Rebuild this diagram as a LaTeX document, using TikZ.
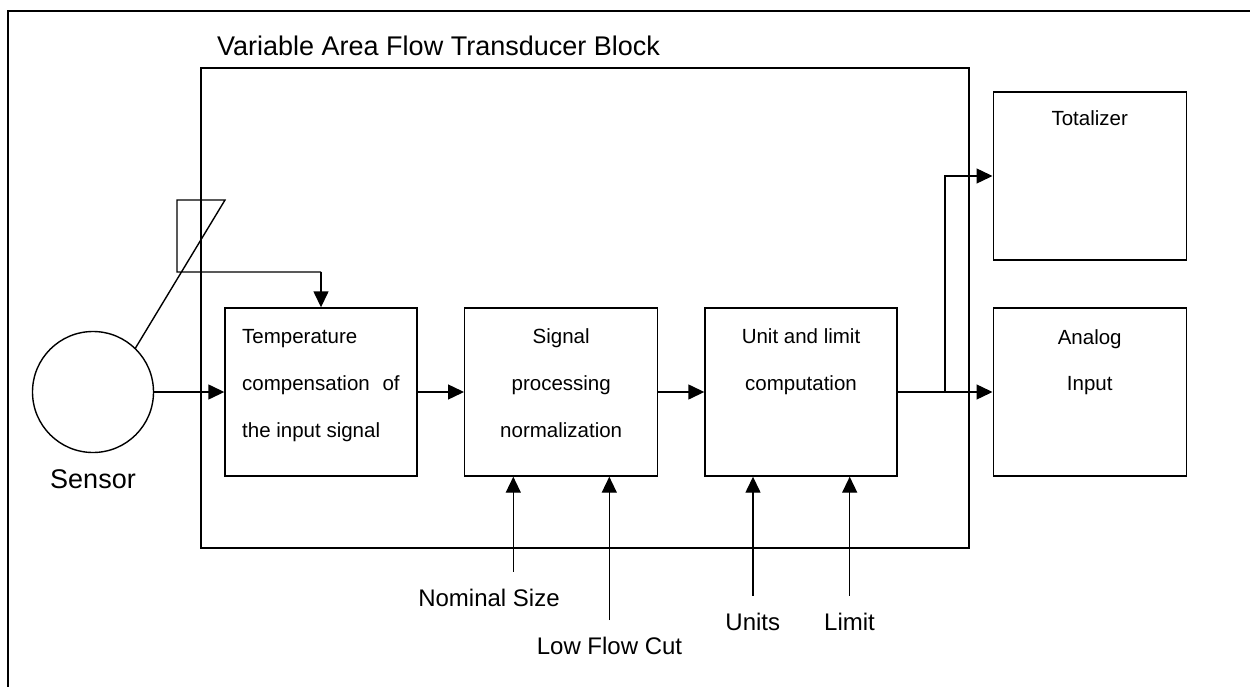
\documentclass[tikz,border=0pt]{standalone}
\usepackage{fontspec}
\setmainfont{Liberation Sans}
\usetikzlibrary{arrows.meta}
\tikzset{
  ln/.style={line width=1.4pt},
  arr/.style={ln,-{Triangle[length=16pt,width=15pt]}},
  blockbox/.style={draw,ln,inner sep=0pt,minimum width=192pt,minimum height=168pt},
  boxtxt/.style={inner sep=0pt,font=\fontsize{20.5}{24}\selectfont,anchor=base},
  lbltxt/.style={inner sep=0pt,font=\fontsize{24}{28}\selectfont,anchor=base},
  bigtxt/.style={inner sep=0pt,font=\fontsize{27}{32}\selectfont},
}
\begin{document}
\begin{tikzpicture}[x=1pt,y=-1pt]
\useasboundingbox (0,0) rectangle (1250,687);
% outer frame (left and top edges)
\coordinate (fbl) at (8,687);
\coordinate (ftl) at (8,11);
\coordinate (ftr) at (1250,11);
\draw[line width=2.2pt] (fbl) -- (ftl) -- (ftr);
% main block
\node[draw,ln,inner sep=0pt,minimum width=768pt,minimum height=480pt] (blk) at (585,308) {};
\node[bigtxt,anchor=base west] (title) at (217,56) {Variable Area Flow Transducer Block};
% sensor
\node[draw,ln,circle,minimum size=121pt,inner sep=0pt] (sen) at (93,392) {};
\node[bigtxt,anchor=base] (sent) at (93,488) {Sensor};
% boxes
\node[blockbox] (b1) at (321,392) {};
\node[blockbox,minimum width=193pt] (b2) at (561.2,392) {};
\node[blockbox] (b3) at (801,392) {};
\node[blockbox,minimum width=193pt] (tot) at (1089.7,176) {};
\node[blockbox,minimum width=193pt] (ana) at (1089.7,392) {};
% box texts
\node[boxtxt,anchor=base west] (b1a) at (242,343) {Temperature};
\node[boxtxt,anchor=base west] (b1b) at (242,390.7) {compensation\hspace{7pt} of};
\node[boxtxt,anchor=base west] (b1c) at (242,437.7) {the input signal};
\node[boxtxt] (b2a) at (561.2,343) {Signal};
\node[boxtxt] (b2b) at (561.2,390.7) {processing};
\node[boxtxt] (b2c) at (561.2,437.7) {normalization};
\node[boxtxt] (b3a) at (801,343) {Unit and limit};
\node[boxtxt] (b3b) at (801,390.7) {computation};
\node[boxtxt] (tota) at (1089.7,126) {Totalizer};
\node[boxtxt] (anaa) at (1089.7,344) {Analog};
\node[boxtxt] (anab) at (1089.7,390) {Input};
% thermometer symbol
\coordinate (tht) at (225,200);
\coordinate (thl) at (177,200);
\coordinate (thb) at (177,272);
\coordinate (thr) at (321,272);
\draw[ln] (sen.46) -- (tht) -- (thl) -- (thb) -- (thr);
\draw[arr] (thr) -- (b1.north);
% main flow
\draw[arr] (sen.east) -- (b1.west);
\draw[arr] (b1.east) -- (b2.west);
\draw[arr] (b2.east) -- (b3.west);
\draw[arr] (b3.east) -- (ana.west);
\coordinate (br) at (945,392);
\draw[arr] (br) |- (tot.west);
% parameter inputs
\coordinate (nsz) at (513.3,571.7);
\coordinate (lfc) at (609.3,620);
\coordinate (unt) at (753,595.7);
\coordinate (lim) at (849.7,595.7);
\draw[arr] (nsz) -- (nsz |- b2.south);
\draw[arr] (lfc) -- (lfc |- b2.south);
\draw[arr] (unt) -- (unt |- b3.south);
\draw[arr] (lim) -- (lim |- b3.south);
\node[lbltxt] (nszt) at (489,606.7) {Nominal Size};
\node[lbltxt] (lfct) at (609.5,654.3) {Low Flow Cut};
\node[lbltxt] (untt) at (752.8,630) {Units};
\node[lbltxt] (limt) at (849.5,630) {Limit};
\end{tikzpicture}
\end{document}
